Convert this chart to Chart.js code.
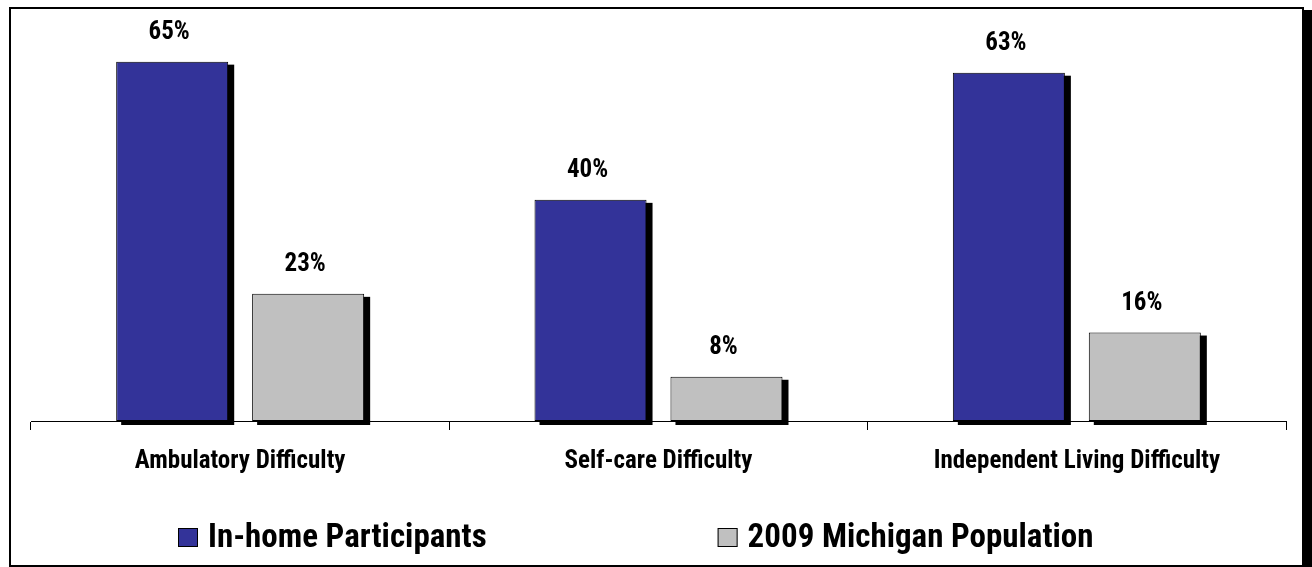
<!DOCTYPE html>
<html><head><meta charset="utf-8">
<script src="https://cdn.jsdelivr.net/npm/chart.js@4.4.1/dist/chart.umd.min.js"></script>
<style>
html,body{margin:0;padding:0;background:#fff;}
#wrap{position:relative;width:1312px;height:567px;overflow:hidden;background:#fff;}
canvas{position:absolute;left:0;top:0;}
#frame{position:absolute;left:9px;top:7px;width:1295px;height:560px;box-sizing:border-box;border:2px solid #000;pointer-events:none;}
#shadow{position:absolute;left:1304px;top:10px;width:8px;height:557px;background:#000;}
</style></head>
<body><div id="wrap"><canvas id="c" width="1312" height="567"></canvas><div id="frame"></div><div id="shadow"></div></div>
<script>
const categories = ['Ambulatory Difficulty', 'Self-care Difficulty', 'Independent Living Difficulty'];
const seriesNames = ['In-home Participants', '2009 Michigan Population'];
const inHomeValues = [65, 40, 63];
const michiganValues = [23, 8, 16];
const seriesColors = ['#333399', '#C0C0C0'];

const FONT = "'Liberation Sans Narrow', 'Arial Narrow', 'Roboto Condensed', 'Liberation Sans', sans-serif";

const shadowAndLabels = {
  id: 'shadowAndLabels',
  beforeDatasetsDraw(chart) {
    const ctx = chart.ctx;
    ctx.save();
    ctx.fillStyle = '#000';
    chart.data.datasets.forEach((ds, i) => {
      chart.getDatasetMeta(i).data.forEach(bar => {
        const p = bar.getProps(['x', 'y', 'base', 'width'], true);
        ctx.fillRect(p.x - p.width / 2 + 5, p.y + 3, p.width + 1, p.base - p.y + 1);
      });
    });
    ctx.restore();
  },
  afterDatasetsDraw(chart) {
    const ctx = chart.ctx;
    ctx.save();
    ctx.fillStyle = '#000';
    ctx.font = 'bold 25px ' + FONT;
    ctx.textAlign = 'center';
    ctx.textBaseline = 'alphabetic';
    chart.data.datasets.forEach((ds, i) => {
      chart.getDatasetMeta(i).data.forEach((bar, j) => {
        const p = bar.getProps(['x', 'y'], true);
        ctx.fillText(ds.data[j] + '%', p.x - 3, p.y - 23);
      });
    });
    ctx.restore();
  },
  afterDraw(chart) {
    const ctx = chart.ctx;
    ctx.save();
    ctx.font = 'bold 33px ' + FONT;
    ctx.textBaseline = 'alphabetic';
    const box = 20, gapText = 10, gapItems = 231;
    const items = chart.data.datasets.map(ds => ({ label: ds.label, color: ds.backgroundColor, w: ctx.measureText(ds.label).width }));
    const total = items.reduce((s, it) => s + box + gapText + it.w, 0) + gapItems * (items.length - 1);
    let x = Math.round(636 - total / 2);
    items.forEach(it => {
      ctx.fillStyle = it.color;
      ctx.fillRect(x, 528, box, 19);
      ctx.strokeStyle = '#000';
      ctx.lineWidth = 1;
      ctx.strokeRect(x + 0.5, 528.5, box - 1, 18);
      ctx.fillStyle = '#000';
      ctx.fillText(it.label, x + box + gapText, 547);
      x += box + gapText + it.w + gapItems;
    });
    ctx.restore();
  }
};

new Chart(document.getElementById('c'), {
  type: 'bar',
  data: {
    labels: categories,
    datasets: [
      { label: seriesNames[0], data: inHomeValues, backgroundColor: seriesColors[0], borderColor: '#000', borderWidth: 1, borderSkipped: false },
      { label: seriesNames[1], data: michiganValues, backgroundColor: seriesColors[1], borderColor: '#000', borderWidth: 1, borderSkipped: false }
    ]
  },
  options: {
    responsive: false,
    animation: false,
    devicePixelRatio: 1,
    categoryPercentage: 0.65,
    barPercentage: 0.824,
    layout: { padding: { left: 31, right: 26, top: 34, bottom: 0 } },
    plugins: { legend: { display: false }, tooltip: { enabled: false } },
    scales: {
      x: {
        offset: true,
        grid: { offset: true, drawOnChartArea: false, drawTicks: true, tickLength: 9, color: '#000', lineWidth: 1 },
        border: { display: true, color: '#000', width: 1 },
        ticks: { color: '#000', font: { family: FONT, size: 25, weight: 'bold' }, padding: 17, maxRotation: 0, autoSkip: false },
        afterFit(scale) { scale.height = 146; }
      },
      y: {
        display: false,
        min: 0,
        max: 70
      }
    }
  },
  plugins: [shadowAndLabels]
});
</script>
</body></html>
